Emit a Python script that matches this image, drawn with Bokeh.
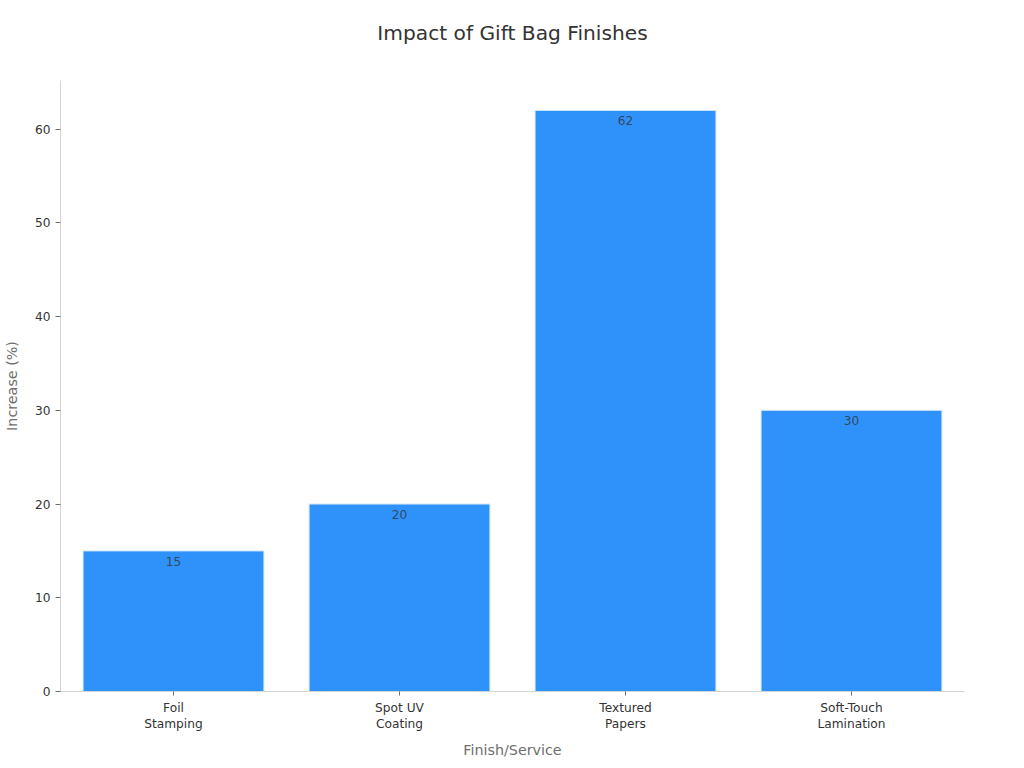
from bokeh.plotting import figure
from bokeh.core.properties import value
from bokeh.models import ColumnDataSource, FixedTicker, Range1d, Title
from bokeh.embed import file_html
from bokeh.resources import INLINE

categories = ["Foil\nStamping", "Spot UV\nCoating", "Textured\nPapers", "Soft-Touch\nLamination"]
values = [15, 20, 62, 30]
y_ticks = [0, 10, 20, 30, 40, 50, 60]
title = "Impact of Gift Bag Finishes"
x_name = "Finish/Service"
y_name = "Increase (%)"

W, H = 1008, 761
FONT = "DejaVu Sans"
p = figure(width=W, height=H, output_backend="svg", toolbar_location=None,
           x_range=Range1d(-0.5, 3.5), y_range=Range1d(0, 65.2),
           min_border_left=60, min_border_right=44, min_border_top=80, min_border_bottom=61)
p.outline_line_color = None
p.grid.visible = False
xs = list(range(len(categories)))
src = ColumnDataSource(dict(x=xs, top=values, label=[str(v) for v in values]))
p.vbar(x="x", top="top", width=0.8, bottom=0, source=src, fill_color="#2f92fb", line_color="#cfe3f8", line_width=1)
p.text(x="x", y="top", text="label", source=src, text_align="center", text_baseline="top", y_offset=6,
       text_font_size="12.2px", text_color="#333333", text_alpha=0.8, text_font=value(FONT))

ax = p.xaxis[0]
ax.ticker = FixedTicker(ticks=xs)
ax.major_label_overrides = {i: c for i, c in enumerate(categories)}
ax.axis_label = x_name
ax.axis_label_text_font_style = "normal"
ax.axis_label_text_font = FONT
ax.axis_label_text_font_size = "14.3px"
ax.axis_label_text_color = "#6e6e6e"
ax.axis_label_standoff = 8
ax.major_label_text_font = FONT
ax.major_label_text_font_size = "12.2px"
ax.major_label_text_color = "#333333"
ax.major_tick_line_color = "#6e6e6e"
ax.major_tick_in = 0
ax.major_tick_out = 4
ax.minor_tick_line_color = None
ax.axis_line_color = "#d5d5d5"

ay = p.yaxis[0]
ay.ticker = FixedTicker(ticks=y_ticks)
ay.axis_label = y_name
ay.axis_label_text_font_style = "normal"
ay.axis_label_text_font = FONT
ay.axis_label_text_font_size = "14.3px"
ay.axis_label_text_color = "#6e6e6e"
ay.axis_label_standoff = 12
ay.major_label_text_font = FONT
ay.major_label_text_font_size = "12.2px"
ay.major_label_text_color = "#333333"
ay.major_tick_line_color = "#6e6e6e"
ay.major_tick_in = 0
ay.major_tick_out = 5
ay.minor_tick_line_color = None
ay.axis_line_color = "#d5d5d5"

# Blank spacer title lifts the real title away from the plot frame.
p.add_layout(Title(text=" ", text_font=FONT, text_font_size="20.2px", standoff=10), "above")
p.add_layout(Title(text=title, align="center", text_font=FONT, text_font_size="20.2px",
                   text_font_style="normal", text_color="#333333", standoff=0), "above")
open("out.html", "w").write(file_html(p, INLINE))
